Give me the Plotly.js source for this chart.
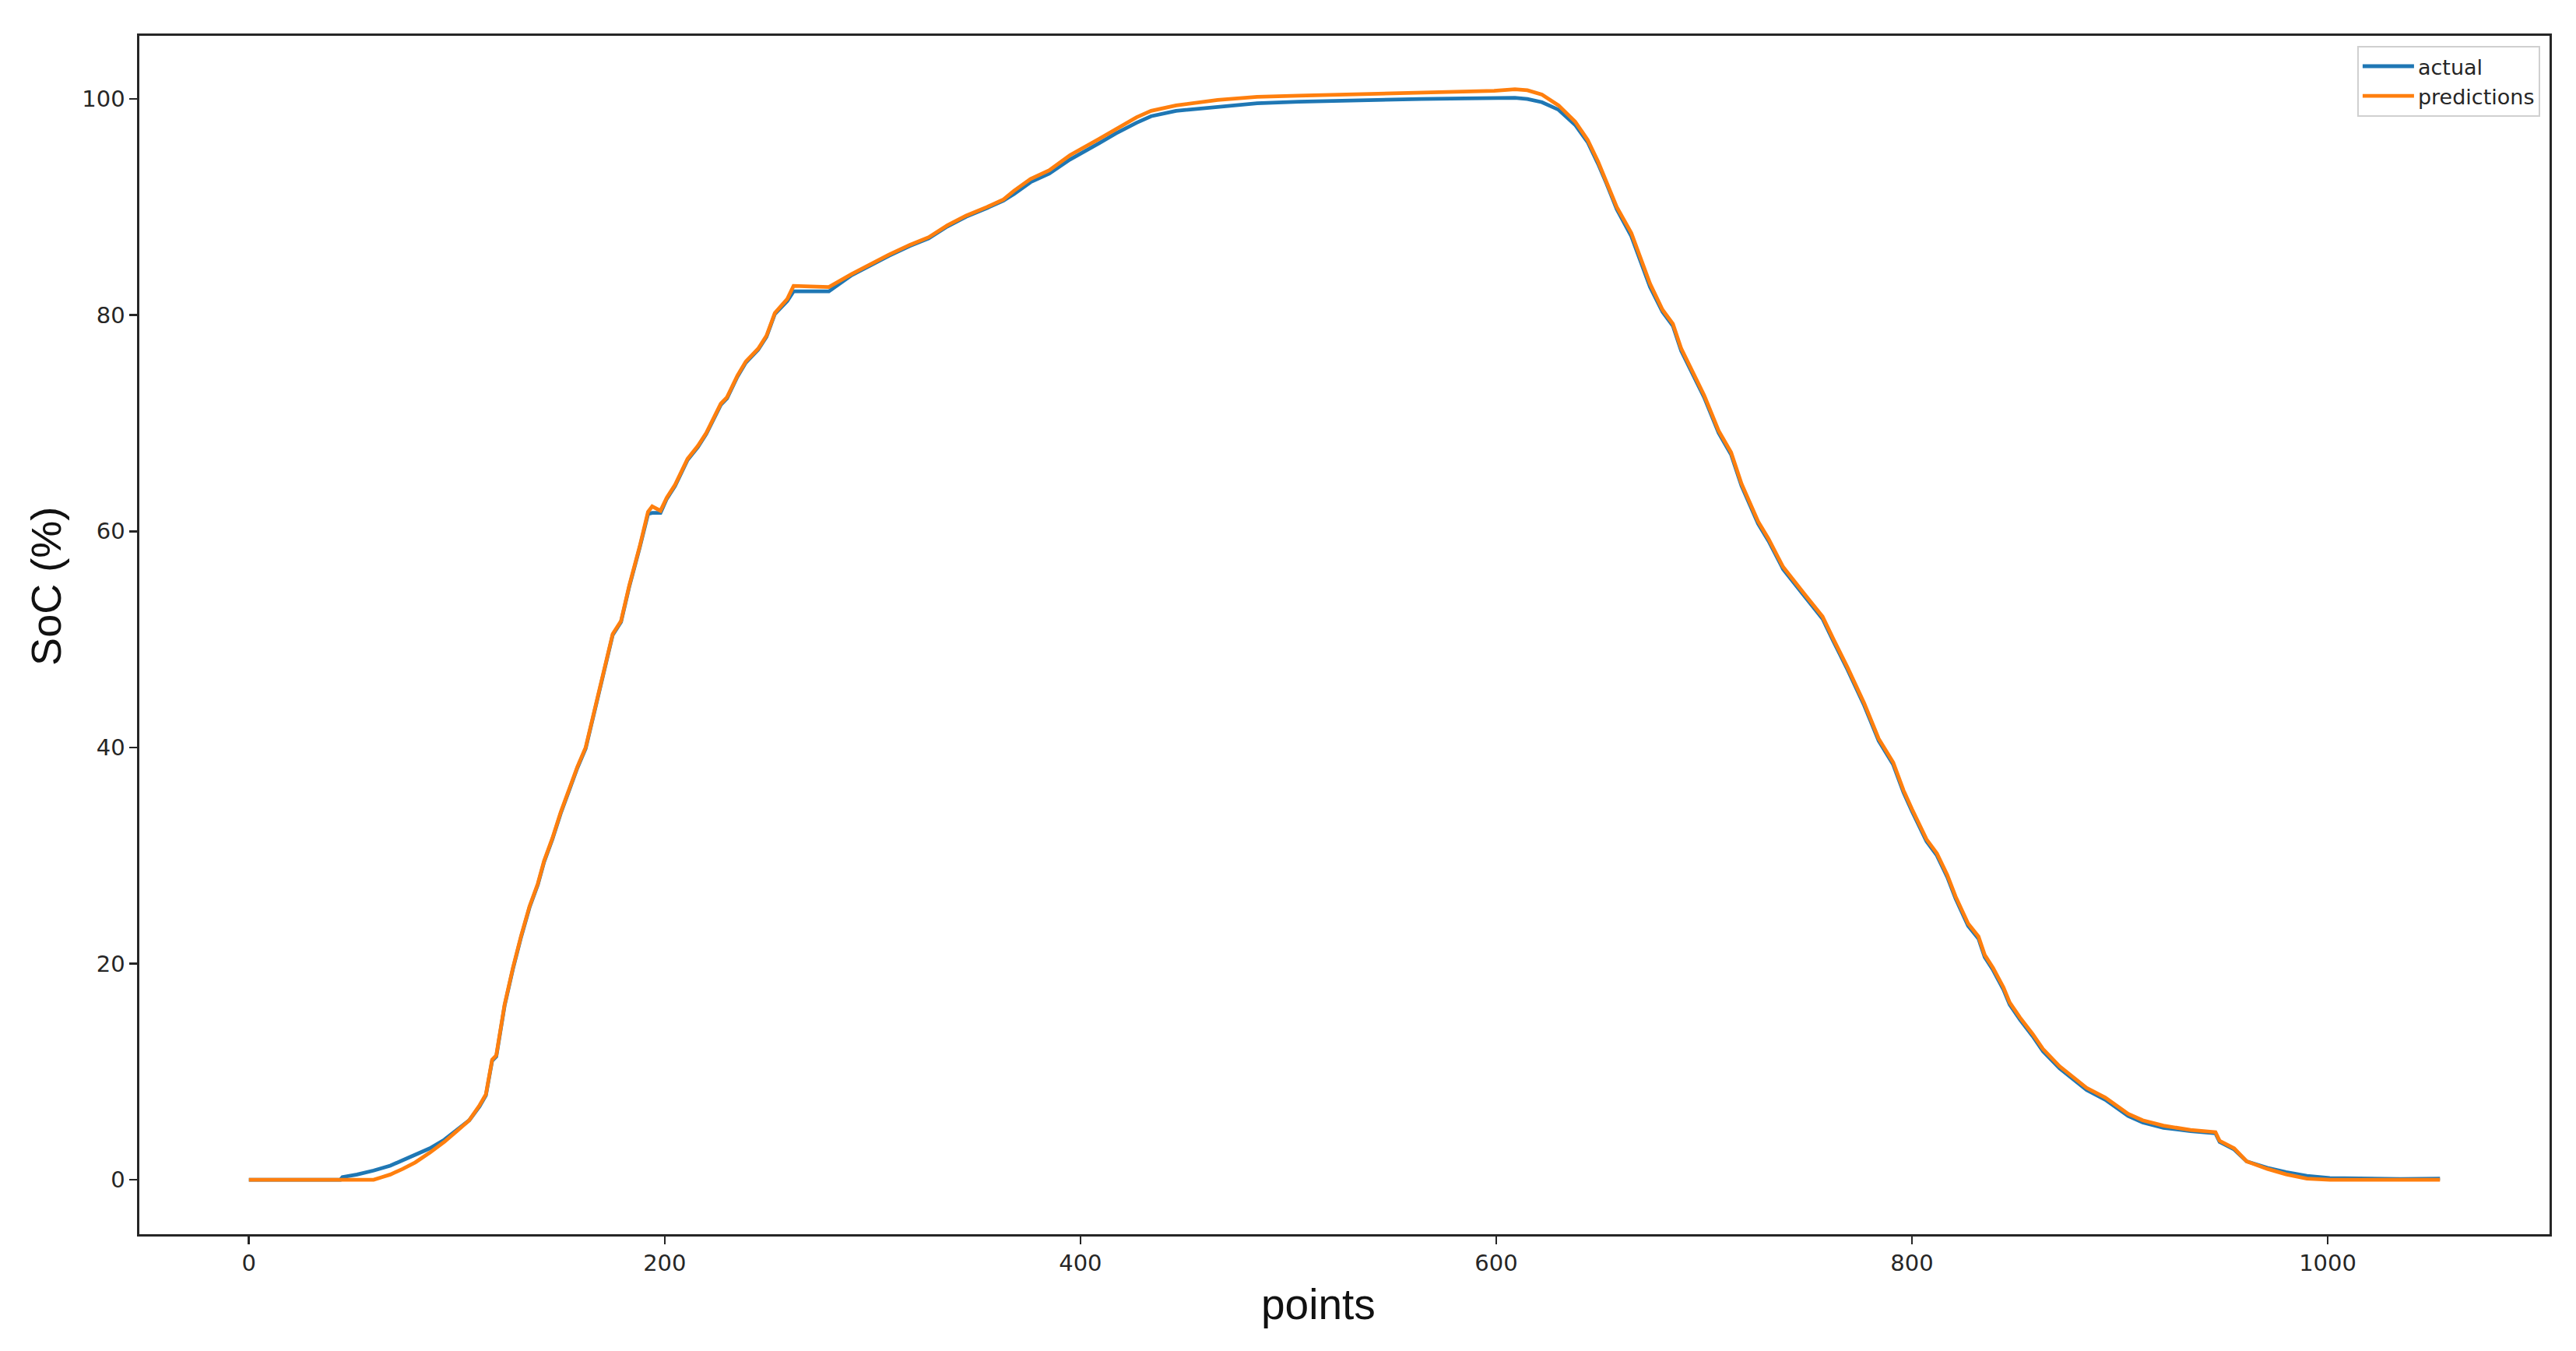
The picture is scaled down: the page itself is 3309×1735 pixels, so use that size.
<!DOCTYPE html>
<html>
<head>
<meta charset="utf-8">
<script src="https://cdn.plot.ly/plotly-3.0.1.min.js"></script>
<style>
  html, body { margin: 0; padding: 0; background: #fff; }
  #soc-chart { width: 3309px; height: 1735px; }
</style>
</head>
<body>
<div id="soc-chart"></div>
<script>
// sample index (x axis)
const points = [
    0, 20, 44, 45, 52, 60, 64, 68, 74, 80, 87, 94, 100, 106, 111, 114, 117, 119, 123, 127,
    131, 135, 139, 142, 146, 150, 154, 158, 162, 168, 175, 179, 183, 188, 192, 194, 198, 201, 205, 211,
    216, 220, 227, 230, 235, 239, 245, 249, 253, 259, 262, 270, 279, 290, 300, 308, 318, 327, 336, 345,
    355, 363, 368, 376, 385, 395, 409, 417, 427, 434, 446, 466, 485, 505, 525, 545, 564, 585, 599, 609,
    615, 622, 630, 638, 644, 649, 653, 658, 665, 669, 674, 680, 685, 689, 695, 700, 707, 713, 718, 726,
    731, 738, 747, 757, 762, 769, 777, 784, 791, 796, 800, 807, 812, 817, 821, 824, 827, 832, 835, 839,
    844, 847, 852, 858, 863, 871, 878, 884, 893, 899, 904, 911, 921, 934, 946, 948, 955, 961, 971, 980,
    990, 1001, 1018, 1035, 1054
]

const actual = [
    0, 0, 0, 0.24, 0.48, 0.85, 1.08, 1.3, 1.8, 2.3, 2.9, 3.7, 4.6, 5.5, 6.8, 7.8, 11.0, 11.4, 16.1, 19.5,
    22.5, 25.2, 27.3, 29.4, 31.5, 33.9, 36.0, 38.1, 39.9, 44.7, 50.4, 51.6, 54.9, 58.5, 61.6, 61.7, 61.7, 63.0, 64.2, 66.6,
    67.8, 69.0, 71.7, 72.3, 74.3, 75.6, 76.8, 78.0, 80.1, 81.3, 82.2, 82.2, 82.2, 83.7, 84.7, 85.5, 86.4, 87.1, 88.2, 89.1,
    89.9, 90.6, 91.2, 92.3, 93.1, 94.4, 95.9, 96.8, 97.8, 98.4, 98.9, 99.3, 99.6, 99.75, 99.85, 99.95, 100.0, 100.05, 100.1, 100.1,
    100.0, 99.7, 99.0, 97.6, 96.0, 94.0, 92.2, 89.8, 87.3, 85.2, 82.6, 80.3, 79.0, 76.7, 74.3, 72.4, 69.1, 67.1, 64.2, 60.7,
    59.1, 56.5, 54.3, 51.9, 49.9, 47.2, 43.9, 40.6, 38.4, 35.8, 34.1, 31.3, 30.0, 28.0, 26.0, 24.8, 23.5, 22.3, 20.6, 19.4,
    17.6, 16.2, 14.8, 13.3, 11.9, 10.3, 9.2, 8.3, 7.4, 6.6, 5.9, 5.3, 4.8, 4.5, 4.3, 3.5, 2.8, 1.7, 1.1, 0.7,
    0.35, 0.15, 0.08, 0.06, 0.1
]

const predictions = [
    0, 0, 0, 0, 0, 0, 0.24, 0.48, 1.0, 1.6, 2.5, 3.5, 4.5, 5.5, 6.9, 7.9, 11.1, 11.5, 16.2, 19.6,
    22.6, 25.3, 27.4, 29.5, 31.6, 34.0, 36.1, 38.2, 40.0, 44.8, 50.5, 51.7, 55.0, 58.6, 61.8, 62.3, 61.9, 63.1, 64.3, 66.7,
    67.9, 69.1, 71.8, 72.4, 74.4, 75.7, 76.9, 78.1, 80.2, 81.5, 82.7, 82.65, 82.6, 83.8, 84.8, 85.6, 86.5, 87.2, 88.3, 89.2,
    90.0, 90.7, 91.5, 92.6, 93.4, 94.8, 96.3, 97.2, 98.3, 98.9, 99.4, 99.9, 100.2, 100.3, 100.4, 100.5, 100.6, 100.7, 100.75, 100.9,
    100.8, 100.4, 99.4, 97.9, 96.2, 94.2, 92.4, 90.0, 87.6, 85.4, 82.9, 80.5, 79.2, 76.9, 74.5, 72.6, 69.3, 67.3, 64.4, 60.9,
    59.3, 56.7, 54.5, 52.1, 50.1, 47.4, 44.1, 40.8, 38.6, 36.0, 34.3, 31.5, 30.2, 28.2, 26.2, 25.0, 23.7, 22.5, 20.8, 19.6,
    17.8, 16.4, 15.0, 13.5, 12.1, 10.5, 9.4, 8.5, 7.6, 6.8, 6.1, 5.5, 5.0, 4.6, 4.4, 3.6, 2.9, 1.7, 1.0, 0.5,
    0.1, 0, 0, 0, 0
]

const xTicks = [0, 200, 400, 600, 800, 1000]
const yTicks = [0, 20, 40, 60, 80, 100]

const axisColor = "#262626"
const tickFont = {family: "DejaVu Sans", size: 29, color: "#262626"}

let data = [{
    x: points,
    y: actual,
    name: "actual",
    mode: "lines",
    type: "scatter",
    line: {color: "#1f77b4", width: 4.8}
}, {
    x: points,
    y: predictions,
    name: "predictions",
    mode: "lines",
    type: "scatter",
    line: {color: "#ff7f0e", width: 4.8}
}]

let layout = {
    width: 3309,
    height: 1735,
    margin: {l: 179, r: 34, t: 46, b: 150},
    paper_bgcolor: "#fff",
    plot_bgcolor: "#fff",
    showlegend: true,
    legend: {
        x: 0.9961, xanchor: "right",
        y: 0.9916, yanchor: "top",
        bgcolor: "rgba(255,255,255,0.8)",
        bordercolor: "#d0d0d0",
        borderwidth: 2,
        font: {family: "DejaVu Sans", size: 27, color: "#262626"},
        itemwidth: 66,
        tracegroupgap: 0
    },
    xaxis: {
        range: [-52.7, 1106.7],
        tickvals: xTicks,
        ticks: "outside",
        ticklen: 10,
        tickwidth: 2.5,
        tickcolor: axisColor,
        showline: true,
        linecolor: axisColor,
        linewidth: 2.6,
        mirror: true,
        showgrid: false,
        zeroline: false,
        tickfont: tickFont
    },
    yaxis: {
        range: [-5.04, 105.84],
        tickvals: yTicks,
        ticks: "outside",
        ticklen: 10,
        tickwidth: 2.5,
        tickcolor: axisColor,
        showline: true,
        linecolor: axisColor,
        linewidth: 2.6,
        mirror: true,
        showgrid: false,
        zeroline: false,
        tickfont: tickFont
    },
    annotations: [{
        text: "points",
        xref: "paper", yref: "paper",
        x: 0.4893, y: -0.0585,
        xanchor: "center", yanchor: "middle",
        showarrow: false,
        font: {family: "Liberation Sans", size: 55, color: "#111"}
    }, {
        text: "SoC (%)",
        xref: "paper", yref: "paper",
        x: -0.0388, y: 0.5406,
        xanchor: "center", yanchor: "middle",
        textangle: -90,
        showarrow: false,
        font: {family: "Liberation Sans", size: 54, color: "#111"}
    }]
}

Plotly.newPlot("soc-chart", data, layout, {displayModeBar: false, staticPlot: true})
</script>
</body>
</html>
